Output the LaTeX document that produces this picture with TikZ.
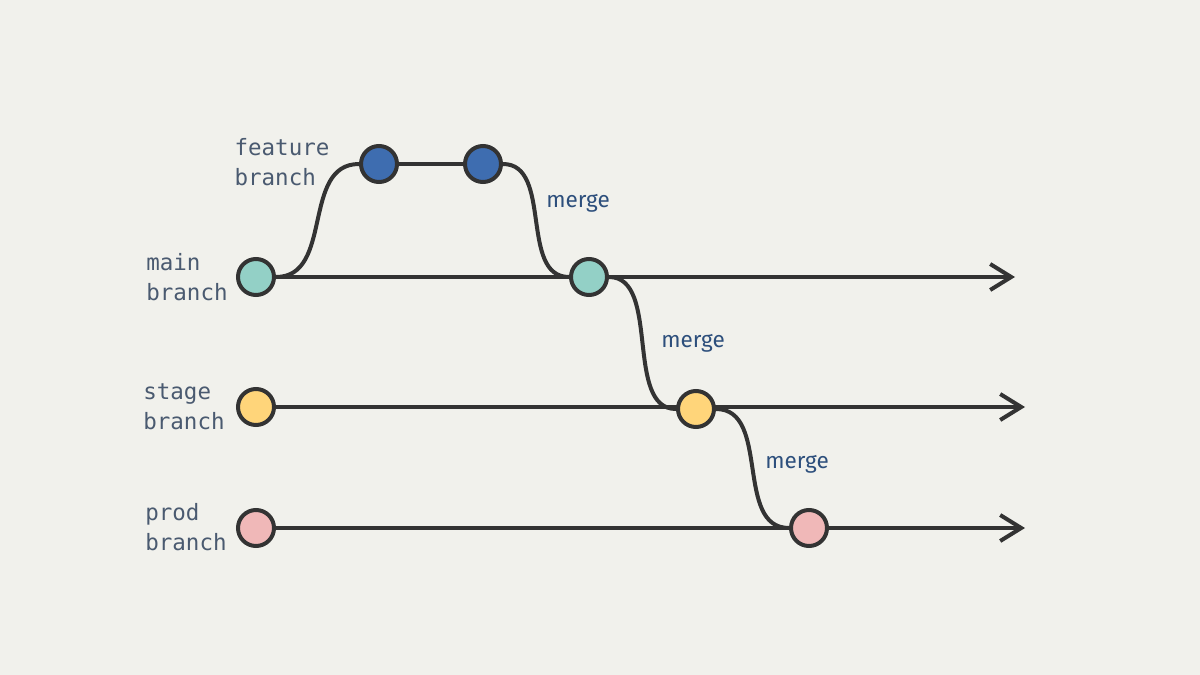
\documentclass[tikz,border=0pt]{standalone}
\usepackage{fontspec}
\setmainfont{Fira Sans}
\setmonofont{DejaVu Sans Mono}
\usetikzlibrary{arrows.meta}
\pgfdeclarelayer{background}
\pgfdeclarelayer{edges}
\pgfsetlayers{background,edges,main}
\definecolor{bg}{HTML}{F1F1EC}
\definecolor{ink}{HTML}{333333}
\definecolor{lbl}{HTML}{4A5A70}
\definecolor{mrg}{HTML}{2D4F7C}
\definecolor{cmain}{HTML}{93D0C6}
\definecolor{cfeat}{HTML}{3E6DB0}
\definecolor{cstage}{HTML}{FFD57A}
\definecolor{cprod}{HTML}{F0B8B8}
\tikzset{
  commit/.style={circle, draw=ink, line width=4pt, minimum size=36pt, inner sep=0pt},
  edge/.style={draw=ink, line width=4pt},
  flow/.style={edge, -{Straight Barb[length=21pt,width=26pt,line width=4pt]}},
  brlabel/.style={font=\ttfamily\fontsize{22.5}{30}\selectfont, text=lbl, align=left, inner sep=0pt},
  mlabel/.style={font=\fontsize{22.5}{26}\selectfont, text=mrg, inner sep=0pt}
}
\begin{document}
\begin{tikzpicture}[x=1pt,y=-1pt]
\begin{pgfonlayer}{background}
\fill[bg] (0,0) rectangle (1200,675);
\end{pgfonlayer}
\useasboundingbox (0,0) rectangle (1200,675);

\node[commit, fill=cmain] (m1) at (256,277) {};
\node[commit, fill=cfeat] (f1) at (379,164) {};
\node[commit, fill=cfeat] (f2) at (483,164) {};
\node[commit, fill=cmain] (m2) at (589,277) {};
\node[commit, fill=cstage] (s1) at (256,407) {};
\node[commit, fill=cstage] (s2) at (696,409) {};
\node[commit, fill=cprod] (p1) at (256,528) {};
\node[commit, fill=cprod] (p2) at (809,528) {};

\coordinate (mend) at (1015,277);
\coordinate (send) at (1025,407);
\coordinate (pend) at (1025,528);

\begin{pgfonlayer}{edges}
\draw[flow] (m1.center) -- (mend);
\draw[flow] (s1.center) -- (send);
\draw[flow] (p1.center) -- (pend);
\draw[edge] (f1) -- (f2);
\draw[edge] (m1.east) .. controls +(58,0) and +(-58,0) .. (f1.west);
\draw[edge] (f2.east) .. controls +(50,0) and +(-50,0) .. (m2.west);
\draw[edge] (m2.east) .. controls +(52,0) and +(-52,0) .. (s2.west);
\draw[edge] (s2.east) .. controls +(55,0) and +(-55,0) .. (p2.west);
\end{pgfonlayer}

\node[brlabel] (lf) at (282,162) {feature\\branch};
\node[brlabel] (lm) at (187,277) {main\\branch};
\node[brlabel] (ls) at (184,407) {stage\\branch};
\node[brlabel] (lp) at (186,527) {prod\\branch};

\node[mlabel] (g1) at (578,203) {merge};
\node[mlabel] (g2) at (693,343) {merge};
\node[mlabel] (g3) at (797,464) {merge};
\end{tikzpicture}
\end{document}
